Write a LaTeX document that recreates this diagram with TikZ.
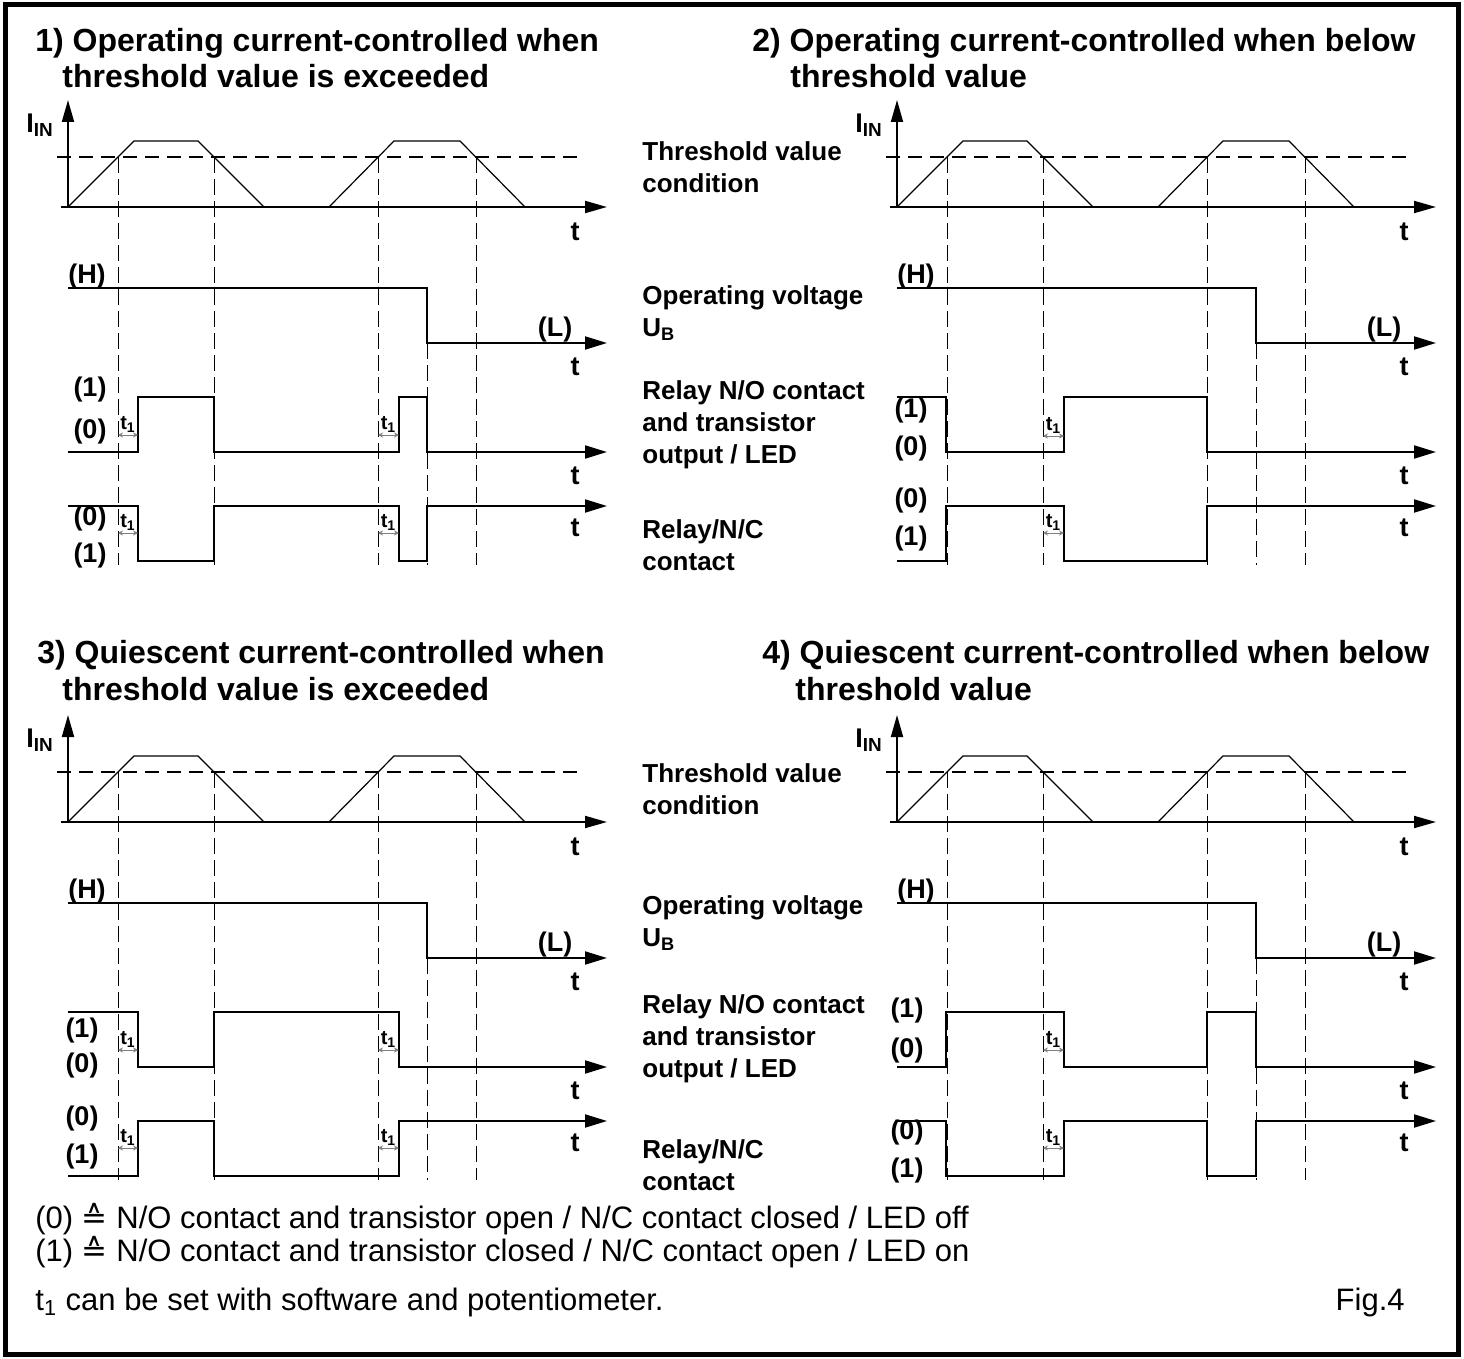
\documentclass[tikz,border=0pt]{standalone}
\usepackage{fontspec}
\setmainfont{Liberation Sans}
\newfontfamily\symfont{DejaVu Sans}
\usetikzlibrary{arrows.meta, positioning}

\begin{document}
\begin{tikzpicture}[
        x=0.5pt, y=-0.5pt,
        sig/.style={line width=1pt},
        sigarrow/.style={line width=1pt, -{Triangle[length=11pt, width=6.5pt]}},
        axis/.style={line width=0.9pt, -{Triangle[length=11pt, width=6pt]}},
        ramp/.style={line width=0.6pt},
        thres/.style={line width=0.6pt, dash pattern=on 7pt off 4pt},
        guide/.style={line width=0.5pt, dash pattern=on 8pt off 3pt},
        delay/.style={gray, line width=0.4pt, {Stealth[length=2.5pt, width=2.5pt]}-{Stealth[length=2.5pt, width=2.5pt]}},
        lvl/.style={font=\bfseries\fontsize{13.5}{15}\selectfont, inner sep=0pt},
        dlabel/.style={font=\bfseries\fontsize{10}{11}\selectfont, inner sep=0pt, above=1pt, black},
        caption/.style={font=\bfseries\fontsize{13}{16}\selectfont, align=left, anchor=west, inner sep=0pt},
        heading/.style={font=\bfseries\fontsize{16}{19}\selectfont, anchor=base west, inner sep=0pt},
        note/.style={font=\fontsize{15.5}{18}\selectfont, anchor=base west, inner sep=0pt}
    ]
    \useasboundingbox (0,0) rectangle (1464,1359);
    \draw[line width=2.5pt] (5,5) rectangle (1458,1354);

    % Common part of every panel: input current, threshold, operating voltage
    \foreach \dx/\dy/\p in {0/0/1, 829/0/2, 0/615/3, 829/615/4} {
        \begin{scope}[shift={(\dx,\dy)}]
            \draw[thres] (57,157) -- (577,157);
            \foreach \x in {118,214,378,476} \draw[guide] (\x,157) -- (\x,565);
            \draw[guide] (427,343) -- (427,565);
            \draw[axis] (68,207) -- (68,100);
            \draw[axis] (61,207) -- (607,207);
            \draw[ramp] (68,207) -- (134,141) -- (198,141) -- (264,207)
                        (329,207) -- (394,141) -- (460,141) -- (525,207);
            \draw[sigarrow] (68,288) -- (427,288) -- (427,343) -- (607,343);
            \node[lvl] (iin\p) at (40,125) {I\textsubscript{IN}};
            \node[lvl] (ta\p) at (575,232) {t};
            \node[lvl] (hi\p) at (87,277) {(H)};
            \node[lvl] (lo\p) at (555,330) {(L)};
            \node[lvl] (tb\p) at (575,367) {t};
            \node[lvl] (tc\p) at (575,476) {t};
            \node[lvl] (td\p) at (575,528) {t};
        \end{scope}
    }

    % Headings
    \node[heading] (head1) at (35,52) {1) Operating current-controlled when};
    \node[heading] (head1b) at (62,88) {threshold value is exceeded};
    \node[heading] (head2) at (752,52) {2) Operating current-controlled when below};
    \node[heading] (head2b) at (790,88) {threshold value};
    \node[heading] (head3) at (37,663) {3) Quiescent current-controlled when};
    \node[heading] (head3b) at (62,700) {threshold value is exceeded};
    \node[heading] (head4) at (762,663) {4) Quiescent current-controlled when below};
    \node[heading] (head4b) at (795,700) {threshold value};

    % Row captions
    \node[caption] (thr1) at (642,167) {Threshold value\\condition};
    \node[caption] (ub1) at (642,313) {Operating voltage\\U\textsubscript{B}};
    \node[caption] (no1) at (642,425) {Relay N/O contact\\and transistor\\output / LED};
    \node[caption] (nc1) at (642,545) {Relay/N/C\\contact};
    \node[caption] (thr3) at (642,789) {Threshold value\\condition};
    \node[caption] (ub3) at (642,923) {Operating voltage\\U\textsubscript{B}};
    \node[caption] (no3) at (642,1039) {Relay N/O contact\\and transistor\\output / LED};
    \node[caption] (nc3) at (642,1165) {Relay/N/C\\contact};

    % Panel 1
    \draw[sigarrow] (68,452) -- (138,452) -- (138,397) -- (214,397) -- (214,452) -- (399,452) -- (399,397) -- (427,397) -- (427,452) -- (607,452);
    \draw[sigarrow] (68,506) -- (138,506) -- (138,561) -- (214,561) -- (214,506) -- (399,506) -- (399,561) -- (427,561) -- (427,506) -- (607,506);
    \draw[delay] (118,435) -- node[dlabel] (d1a) {t\textsubscript{1}} (138,435);
    \draw[delay] (378,435) -- node[dlabel] (d1b) {t\textsubscript{1}} (399,435);
    \draw[delay] (118,533) -- node[dlabel] (d1c) {t\textsubscript{1}} (138,533);
    \draw[delay] (378,533) -- node[dlabel] (d1d) {t\textsubscript{1}} (399,533);
    \node[lvl] (one1a) at (90,390) {(1)};
    \node[lvl] (zero1a) at (90,432) {(0)};
    \node[lvl] (zero1b) at (90,519) {(0)};
    \node[lvl] (one1b) at (90,556) {(1)};

    % Panel 2
    \draw[sigarrow] (897,397) -- (946,397) -- (946,452) -- (1064,452) -- (1064,397) -- (1207,397) -- (1207,452) -- (1436,452);
    \draw[sigarrow] (897,561) -- (946,561) -- (946,506) -- (1064,506) -- (1064,561) -- (1207,561) -- (1207,506) -- (1436,506);
    \draw[delay] (1043,436) -- node[dlabel] (d2a) {t\textsubscript{1}} (1064,436);
    \draw[delay] (1043,533) -- node[dlabel] (d2b) {t\textsubscript{1}} (1064,533);
    \node[lvl] (one2a) at (911,411) {(1)};
    \node[lvl] (zero2a) at (911,449) {(0)};
    \node[lvl] (zero2b) at (911,501) {(0)};
    \node[lvl] (one2b) at (911,539) {(1)};

    % Panel 3
    \draw[sigarrow] (68,1012) -- (138,1012) -- (138,1067) -- (214,1067) -- (214,1012) -- (399,1012) -- (399,1067) -- (607,1067);
    \draw[sigarrow] (68,1176) -- (138,1176) -- (138,1121) -- (214,1121) -- (214,1176) -- (399,1176) -- (399,1121) -- (607,1121);
    \draw[delay] (118,1050) -- node[dlabel] (d3a) {t\textsubscript{1}} (138,1050);
    \draw[delay] (378,1050) -- node[dlabel] (d3b) {t\textsubscript{1}} (399,1050);
    \draw[delay] (118,1148) -- node[dlabel] (d3c) {t\textsubscript{1}} (138,1148);
    \draw[delay] (378,1148) -- node[dlabel] (d3d) {t\textsubscript{1}} (399,1148);
    \node[lvl] (one3a) at (82,1031) {(1)};
    \node[lvl] (zero3a) at (82,1066) {(0)};
    \node[lvl] (zero3b) at (82,1119) {(0)};
    \node[lvl] (one3b) at (82,1157) {(1)};

    % Panel 4
    \draw[sigarrow] (897,1067) -- (946,1067) -- (946,1012) -- (1064,1012) -- (1064,1067) -- (1207,1067) -- (1207,1012) -- (1256,1012) -- (1256,1067) -- (1436,1067);
    \draw[sigarrow] (897,1121) -- (946,1121) -- (946,1176) -- (1064,1176) -- (1064,1121) -- (1207,1121) -- (1207,1176) -- (1256,1176) -- (1256,1121) -- (1436,1121);
    \draw[delay] (1043,1050) -- node[dlabel] (d4a) {t\textsubscript{1}} (1064,1050);
    \draw[delay] (1043,1148) -- node[dlabel] (d4b) {t\textsubscript{1}} (1064,1148);
    \node[lvl] (one4a) at (907,1011) {(1)};
    \node[lvl] (zero4a) at (907,1051) {(0)};
    \node[lvl] (zero4b) at (907,1133) {(0)};
    \node[lvl] (one4b) at (907,1171) {(1)};

    % Notes
    \node[note] (note0) at (35,1228) {(0) {\symfont ≙} N/O contact and transistor open / N/C contact closed / LED off};
    \node[note] (note1) at (35,1261) {(1) {\symfont ≙} N/O contact and transistor closed / N/C contact open / LED on};
    \node[note] (note2) at (35,1310) {t\textsubscript{1} can be set with software and potentiometer.};
    \node[note, anchor=base east] (fig) at (1405,1310) {Fig.4};
\end{tikzpicture}
\end{document}
